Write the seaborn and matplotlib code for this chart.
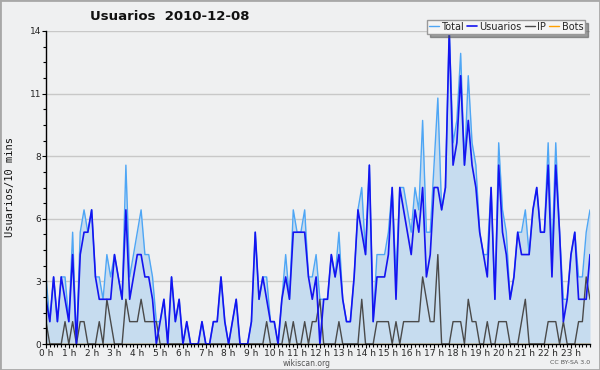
import matplotlib
matplotlib.use('Agg')
import matplotlib.pyplot as plt
import matplotlib.patches as mpatches
from matplotlib.ticker import MultipleLocator
import seaborn as sns
import numpy as np
import pandas as pd

sns.set_theme(style='white')
plt.rcParams['font.family'] = ['DejaVu Sans']

BG = '#eff0f1'
C_TOTAL = '#4ea6f5'
C_FILL = '#c6dcef'
C_USERS = '#1414f0'
C_IP = '#4a4a4a'
C_BOTS = '#ffa000'

# ── data: one value per 10-minute slot, 144 slots ──
usuarios = [2, 1, 3, 1, 3, 2, 1, 4, 0, 4, 5, 5, 6, 3, 2, 2, 2, 2, 4, 3, 2, 6, 2, 3,
            4, 4, 3, 3, 2, 0, 1, 2, 0, 3, 1, 2, 0, 1, 0, 0, 0, 1, 0, 0, 1, 1, 3, 1,
            0, 1, 2, 0, 0, 0, 1, 5, 2, 3, 2, 1, 1, 0, 2, 3, 2, 5, 5, 5, 5, 3, 2, 3,
            0, 2, 2, 4, 3, 4, 2, 1, 1, 3, 6, 5, 4, 8, 1, 3, 3, 3, 4, 7, 2, 7, 6, 5,
            4, 6, 5, 7, 3, 4, 7, 7, 6, 7, 14, 8, 9, 12, 8, 10, 8, 7, 5, 4, 3, 7, 2, 8,
            5, 4, 2, 3, 5, 4, 4, 4, 6, 7, 5, 5, 8, 3, 8, 5, 1, 2, 4, 5, 2, 2, 2, 4]
ip = [1, 0, 0, 0, 0, 1, 0, 1, 0, 1, 1, 0, 0, 0, 1, 0, 2, 1, 0, 0, 0, 2, 1, 1,
      1, 2, 1, 1, 1, 1, 0, 0, 0, 0, 0, 0, 0, 0, 0, 0, 0, 0, 0, 0, 0, 0, 0, 0,
      0, 0, 0, 0, 0, 0, 0, 0, 0, 0, 1, 0, 0, 0, 0, 1, 0, 1, 0, 0, 1, 0, 1, 1,
      2, 0, 0, 0, 0, 1, 0, 0, 0, 0, 0, 2, 0, 0, 0, 1, 1, 1, 1, 0, 1, 0, 1, 1,
      1, 1, 1, 3, 2, 1, 1, 4, 0, 0, 0, 1, 1, 1, 0, 2, 1, 1, 0, 0, 1, 0, 0, 1,
      1, 1, 0, 0, 0, 1, 2, 0, 0, 0, 0, 0, 1, 1, 1, 0, 1, 0, 0, 0, 1, 1, 3, 2]
total = [3, 1, 3, 1, 3, 3, 1, 5, 0, 5, 6, 5, 6, 3, 3, 2, 4, 3, 4, 3, 2, 8, 3, 4,
         5, 6, 4, 4, 3, 1, 1, 2, 0, 3, 1, 2, 0, 1, 0, 0, 0, 1, 0, 0, 1, 1, 3, 1,
         0, 1, 2, 0, 0, 0, 1, 5, 2, 3, 3, 1, 1, 0, 2, 4, 2, 6, 5, 5, 6, 3, 3, 4,
         2, 2, 2, 4, 3, 5, 2, 1, 1, 3, 6, 7, 4, 8, 1, 4, 4, 4, 5, 7, 3, 7, 7, 6,
         5, 7, 6, 10, 5, 5, 8, 11, 6, 7, 14, 9, 10, 13, 8, 12, 9, 8, 5, 4, 4, 7, 2, 9,
         6, 5, 2, 3, 5, 5, 6, 4, 6, 7, 5, 5, 9, 4, 9, 5, 2, 2, 4, 5, 3, 3, 5, 6]
bots = [0] * 144
slot = np.arange(144)
hour_labels = [f'{h} h' for h in range(24)]
ytick_labels = ['0', '3', '6', '8', '11', '14']

df = pd.DataFrame({'slot': slot, 'Total': total, 'Usuarios': usuarios,
                   'IP': ip, 'Bots': bots})

fig = plt.figure(figsize=(6, 3.7), dpi=100, facecolor=BG)
ax = fig.add_axes([46/600, 26/370, 544/600, 313/370])
ax.set_facecolor(BG)

ax.fill_between(df['slot'], df['Total'], color=C_FILL, lw=0, zorder=1)
sns.lineplot(data=df, x='slot', y='Total', color=C_TOTAL, lw=1, label='Total', ax=ax, zorder=3)
sns.lineplot(data=df, x='slot', y='Usuarios', color=C_USERS, lw=1.2, label='Usuarios', ax=ax, zorder=4)
sns.lineplot(data=df, x='slot', y='IP', color=C_IP, lw=1, label='IP', ax=ax, zorder=3)
sns.lineplot(data=df, x='slot', y='Bots', color=C_BOTS, lw=1, label='Bots', ax=ax, zorder=2)

ax.set_xlim(0, 143)
ax.set_ylim(0, 14)
ax.set_xlabel('')
ax.set_ylabel('')

ax.set_yticks(np.linspace(0, 14, 6))
ax.set_yticklabels(ytick_labels)
ax.yaxis.set_minor_locator(MultipleLocator(0.7))
ax.set_xticks(np.arange(0, 144, 6))
ax.set_xticklabels(hour_labels)
ax.xaxis.set_minor_locator(MultipleLocator(1))

ax.grid(axis='y', which='major', color='#c8c8c8', lw=1)
ax.set_axisbelow(True)
for s in ['top', 'right']:
    ax.spines[s].set_visible(False)
for s in ['left', 'bottom']:
    ax.spines[s].set_color('black')
    ax.spines[s].set_linewidth(1)
    ax.spines[s].set_zorder(6)
ax.tick_params(which='both', direction='out', length=3, width=0.8, color='black',
               labelsize=6.5, pad=0.5, left=True, bottom=True)
ax.tick_params(which='minor', length=2.5)

ax.legend(loc='upper right', bbox_to_anchor=(590/600, 1 - 15/370), bbox_transform=fig.transFigure,
          ncol=4, fontsize=7, frameon=True, fancybox=False, shadow=True, framealpha=1,
          facecolor='#f4f4f4', edgecolor='#999999', handlelength=1.0, handletextpad=0.25,
          columnspacing=0.35, borderpad=0.2)

fig.text(170/600, 1 - 17/370, 'Usuarios  2010-12-08', ha='center', va='center',
         fontsize=9.5, fontweight='bold', color='#111111')
fig.text(10/600, 1 - 187/370, 'Usuarios/10 mins', rotation=90, ha='center', va='center',
         fontsize=7.5, family='DejaVu Sans Mono', color='#111111')
fig.text(307/600, 1 - 363/370, 'wikiscan.org', ha='center', va='center', fontsize=5.5, color='#555555')
fig.text(590/600, 1 - 363/370, 'CC BY-SA 3.0', ha='right', va='center', fontsize=4.5, color='#555555')

fig.patches.append(mpatches.Rectangle((0, 0), 1, 1, transform=fig.transFigure, fill=False,
                                      edgecolor='#a8a8a8', lw=2))

fig.savefig('out.png', dpi=100, facecolor=BG)
